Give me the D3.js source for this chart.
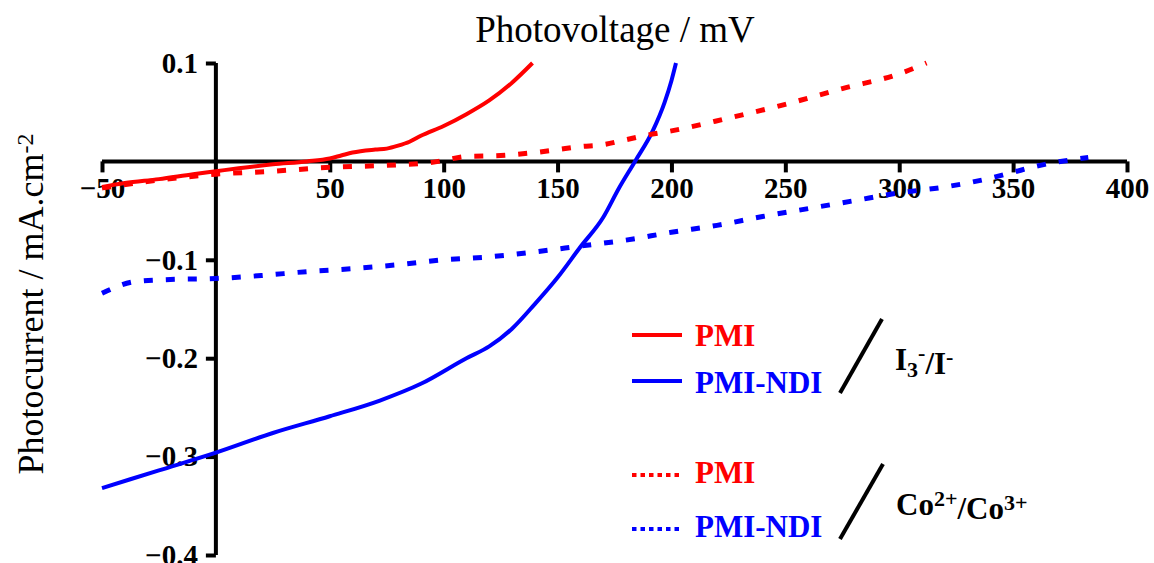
<!DOCTYPE html>
<html>
<head>
<meta charset="utf-8">
<script src="https://cdn.jsdelivr.net/npm/d3@7"></script>
<style>
  body { margin: 0; background: #fff; }
  svg { display: block; font-family: "Liberation Serif", "Times New Roman", serif; }
</style>
</head>
<body>
<svg width="1154" height="563"></svg>
<script>
// data (photovoltage mV, photocurrent mA/cm2)
var pmiI3 = [[-50,-0.026],[-40,-0.022],[-25,-0.018],[-10,-0.013],[0,-0.010],[10,-0.007],[25,-0.003],
  [40,0.000],[50,0.003],[55,0.006],[60,0.009],[70,0.012],[75,0.013],[80,0.016],[85,0.020],[90,0.026],
  [100,0.036],[110,0.048],[120,0.062],[130,0.080],[139,0.1]];

var ndiI3 = [[-50,-0.332],[-25,-0.314],[0,-0.296],[25,-0.276],[50,-0.259],[72,-0.243],[90,-0.226],
  [110,-0.200],[120,-0.188],[130,-0.170],[140,-0.145],[150,-0.118],[160,-0.087],[170,-0.057],
  [177,-0.027],[184,0.000],[192,0.032],[197,0.060],[200,0.082],[202,0.1]];

var pmiCo = [[-50,-0.027],[-25,-0.019],[0,-0.013],[25,-0.010],[50,-0.006],[75,-0.004],[95,-0.001],
  [100,0.001],[110,0.005],[125,0.006],[140,0.009],[150,0.012],[160,0.015],[170,0.017],[180,0.022],
  [190,0.027],[200,0.031],[225,0.044],[250,0.058],[275,0.074],[300,0.089],[312,0.1]];

var ndiCo = [[-50,-0.134],[-35,-0.122],[-20,-0.120],[0,-0.119],[20,-0.116],[40,-0.112],[60,-0.109],
  [80,-0.105],[100,-0.100],[120,-0.097],[140,-0.092],[160,-0.086],[180,-0.080],[200,-0.072],
  [220,-0.065],[240,-0.056],[260,-0.048],[280,-0.040],[300,-0.032],[320,-0.026],[340,-0.017],
  [350,-0.011],[360,-0.005],[383,0.004]];

var xTicks = [-50, 50, 100, 150, 200, 250, 300, 350, 400];
var yTicks = [0.1, -0.1, -0.2, -0.3, -0.4];

var series = [
  {name: "PMI", data: pmiI3, colour: "#ff0000", dotted: false},
  {name: "PMI-NDI", data: ndiI3, colour: "#0000ff", dotted: false},
  {name: "PMI", data: pmiCo, colour: "#ff0000", dotted: true},
  {name: "PMI-NDI", data: ndiCo, colour: "#0000ff", dotted: true}
];

var svg = d3.select("svg");

var x = d3.scaleLinear().domain([-50, 400]).range([102, 1127]);
var y = d3.scaleLinear().domain([-0.4, 0.1]).range([555, 63]);

// axes cross at the origin
var xAxis = d3.axisBottom(x)
  .tickValues(xTicks)
  .tickSize(11)
  .tickPadding(5)
  .tickFormat(d3.format("d"));

var yAxis = d3.axisLeft(y)
  .tickValues(yTicks)
  .tickSize(10)
  .tickPadding(8)
  .tickFormat(d3.format(".1f"));

var gx = svg.append("g")
  .attr("transform", "translate(0," + y(0) + ")")
  .call(xAxis);

var gy = svg.append("g")
  .attr("transform", "translate(" + x(0) + ",0)")
  .call(yAxis);

[gx, gy].forEach(function(g) {
  g.select(".domain").attr("stroke", "#000").attr("stroke-width", 4);
  g.selectAll(".tick line").attr("stroke", "#000").attr("stroke-width", 4);
  g.selectAll(".tick text")
    .attr("fill", "#000")
    .style("font-family", "'Liberation Serif', 'Times New Roman', serif")
    .style("font-size", "29px")
    .style("font-weight", "bold");
});
// plain domain lines, no outer ticks
gx.select(".domain").attr("d", "M" + x(-50) + ",0H" + x(400));
gy.select(".domain").attr("d", "M0," + y(0.1) + "V" + y(-0.4));
gx.selectAll(".tick text").attr("dy", "0.71em");

// curves
var line = d3.line()
  .x(d => x(d[0]))
  .y(d => y(d[1]))
  .curve(d3.curveMonotoneX);

svg.append("g")
  .selectAll("path")
  .data(series)
  .enter().append("path")
  .attr("d", d => line(d.data))
  .attr("fill", "none")
  .attr("stroke", d => d.colour)
  .attr("stroke-width", d => d.dotted ? 5 : 4)
  .attr("stroke-dasharray", d => d.dotted ? "9,13" : null)
  .attr("stroke-linejoin", "round");

// titles
svg.append("text")
  .attr("x", 615)
  .attr("y", 42)
  .attr("text-anchor", "middle")
  .style("font-size", "37px")
  .text("Photovoltage / mV");

var yl = svg.append("text")
  .attr("transform", "translate(43,304) rotate(-90)")
  .attr("text-anchor", "middle")
  .style("font-size", "36px");
yl.append("tspan").text("Photocurrent / mA.cm");
yl.append("tspan").attr("dy", "-0.4em").style("font-size", "24px").text("-2");

// legend
var legendRows = [
  {s: series[0], ly: 335, ty: 346},
  {s: series[1], ly: 381, ty: 393},
  {s: series[2], ly: 475, ty: 483},
  {s: series[3], ly: 529, ty: 537}
];

var leg = svg.append("g");
leg.selectAll("line.key")
  .data(legendRows)
  .enter().append("line")
  .attr("class", "key")
  .attr("x1", 632).attr("x2", 682)
  .attr("y1", d => d.ly).attr("y2", d => d.ly)
  .attr("stroke", d => d.s.colour)
  .attr("stroke-width", 4)
  .attr("stroke-dasharray", d => d.s.dotted ? "4.5,4" : null);

leg.selectAll("text.key")
  .data(legendRows)
  .enter().append("text")
  .attr("class", "key")
  .attr("x", 695)
  .attr("y", d => d.ty)
  .attr("fill", d => d.s.colour)
  .style("font-size", "31px")
  .style("font-weight", "bold")
  .text(d => d.s.name);

// slashes grouping the electrolytes
var slashes = [[840, 393, 882, 319], [840, 539, 883, 464]];
leg.selectAll("line.slash")
  .data(slashes)
  .enter().append("line")
  .attr("x1", d => d[0]).attr("y1", d => d[1])
  .attr("x2", d => d[2]).attr("y2", d => d[3])
  .attr("stroke", "#000")
  .attr("stroke-width", 4);

var t1 = leg.append("text")
  .attr("x", 895).attr("y", 370)
  .style("font-size", "31px").style("font-weight", "bold");
t1.append("tspan").text("I");
t1.append("tspan").attr("dy", "0.3em").style("font-size", "22px").text("3");
t1.append("tspan").attr("dy", "-0.75em").style("font-size", "22px").text("-");
t1.append("tspan").attr("dy", "0.45em").text("/I");
t1.append("tspan").attr("dy", "-0.45em").style("font-size", "22px").text("-");

var t2 = leg.append("text")
  .attr("x", 896).attr("y", 515)
  .style("font-size", "31px").style("font-weight", "bold");
t2.append("tspan").text("Co");
t2.append("tspan").attr("dy", "-0.4em").style("font-size", "22px").text("2+");
t2.append("tspan").attr("dy", "0.4em").text("/Co");
t2.append("tspan").attr("dy", "-0.4em").style("font-size", "22px").text("3+");
</script>
</body>
</html>
